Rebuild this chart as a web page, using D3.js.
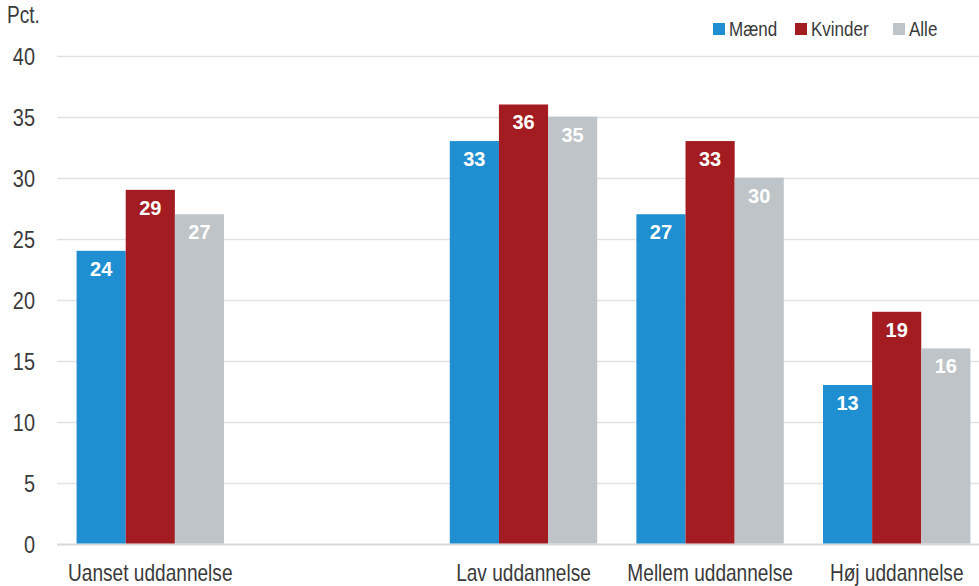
<!DOCTYPE html>
<html>
    <head>
        <meta charset="UTF-8" />
        <title>Andel pct.</title>
        <style>
            body { margin: 0; background: #fff; }
        </style>
    </head>
    <body>
        <script src="https://cdn.jsdelivr.net/npm/d3@7"></script>
        <script type="text/javascript">
            var categories = ["Uanset uddannelse", "", "Lav uddannelse", "Mellem uddannelse", "Høj uddannelse"];
            var seriesNames = ["Mænd", "Kvinder", "Alle"];
            var maend = [24, null, 33, 27, 13];
            var kvinder = [29, null, 36, 33, 19];
            var alle = [27, null, 35, 30, 16];
            var yTicks = [0, 5, 10, 15, 20, 25, 30, 35, 40];
            var colors = ["#1f8fd1", "#a31c22", "#bec4c7"];

            var width = 979, height = 586;
            var font = "'Liberation Sans', Arial, sans-serif";
            var squeeze = 0.83; // no narrow font installed, so squeeze text horizontally

            var svg = d3
                .select("body")
                .append("svg")
                .attr("width", width)
                .attr("height", height);

            function place(x, y) {
                return "translate(" + x + "," + y + ") scale(" + squeeze + ",1)";
            }

            var x = d3.scaleBand()
                .domain(d3.range(categories.length))
                .range([57, 990])
                .paddingInner(0.21)
                .paddingOuter(0.105);

            var xs = d3.scaleBand()
                .domain(d3.range(seriesNames.length))
                .range([0, x.bandwidth()]);

            var y = d3.scaleLinear().domain([0, 40]).range([543.5, 55.7]);

            // gridlines
            svg.append("g")
                .selectAll("line")
                .data(yTicks)
                .join("line")
                .attr("x1", 57)
                .attr("x2", width)
                .attr("y1", function(d) { return Math.round(y(d)) + 0.5; })
                .attr("y2", function(d) { return Math.round(y(d)) + 0.5; })
                .attr("stroke", function(d) { return d === 0 ? "#d3d8dc" : "#dfe2e5"; })
                .attr("stroke-width", function(d) { return d === 0 ? 2 : 1.5; });

            // y labels
            svg.append("g")
                .selectAll("text")
                .data(yTicks)
                .join("text")
                .attr("transform", function(d) { return place(35, y(d) + 9); })
                .attr("text-anchor", "end")
                .style("font", "24px " + font)
                .attr("fill", "#3a3a3a")
                .text(function(d) { return d; });

            svg.append("text")
                .attr("transform", place(7, 23))
                .style("font", "23px " + font)
                .attr("fill", "#3a3a3a")
                .text("Pct.");

            var series = [maend, kvinder, alle];
            var groups = svg.append("g")
                .selectAll("g")
                .data(series)
                .join("g")
                .attr("fill", function(d, i) { return colors[i]; });

            groups.each(function(values, si) {
                var g = d3.select(this);
                var data = values.map(function(v, ci) { return { v: v, ci: ci }; })
                    .filter(function(d) { return d.v !== null; });

                g.selectAll("rect")
                    .data(data)
                    .join("rect")
                    .attr("x", function(d) { return x(d.ci) + xs(si); })
                    .attr("width", xs.bandwidth())
                    .attr("y", function(d) { return y(d.v); })
                    .attr("height", function(d) { return y(0) - y(d.v); });

                g.selectAll("text")
                    .data(data)
                    .join("text")
                    .attr("x", function(d) { return x(d.ci) + xs(si) + xs.bandwidth() / 2; })
                    .attr("y", function(d) { return y(d.v) + 25; })
                    .attr("text-anchor", "middle")
                    .attr("fill", "#fff")
                    .style("font", "bold 20px " + font)
                    .text(function(d) { return d.v; });
            });

            // category labels
            svg.append("g")
                .selectAll("text")
                .data(categories)
                .join("text")
                .attr("transform", function(d, i) { return place(x(i) + x.bandwidth() / 2, 581); })
                .attr("text-anchor", "middle")
                .style("font", "23px " + font)
                .attr("fill", "#3a3a3a")
                .text(function(d) { return d; });

            // legend
            var legendX = [713, 795, 893];
            var legend = svg.append("g")
                .selectAll("g")
                .data(seriesNames)
                .join("g")
                .attr("transform", function(d, i) { return "translate(" + legendX[i] + ",23)"; });

            legend.append("rect")
                .attr("width", 12)
                .attr("height", 12)
                .attr("fill", function(d, i) { return colors[i]; });

            legend.append("text")
                .attr("transform", place(16, 13))
                .style("font", "20.5px " + font)
                .attr("fill", "#3a3a3a")
                .text(function(d) { return d; });
        </script>
    </body>
</html>
